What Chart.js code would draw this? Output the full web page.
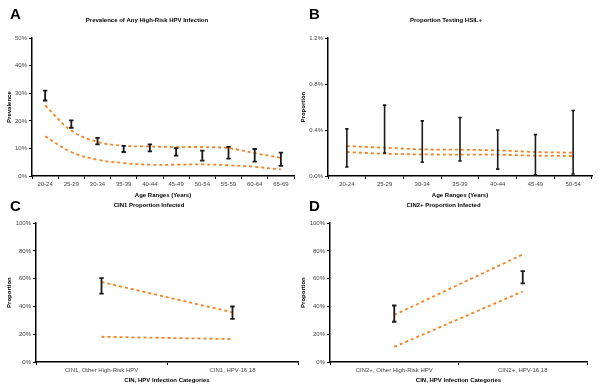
<!DOCTYPE html>
<html>
<head>
<meta charset="utf-8">
<script src="https://cdn.jsdelivr.net/npm/chart.js@4/dist/chart.umd.min.js"></script>
<style>
  body { margin: 0; background: #fff; }
  #wrap { position: relative; width: 600px; height: 390px; overflow: hidden; font-family: "Liberation Sans", Arial, sans-serif; }
  canvas { position: absolute; }
  .tag { position: absolute; font-size: 15px; font-weight: bold; line-height: 15px; color: #000; }
</style>
</head>
<body>
<div id="wrap">
  <canvas id="chartA" width="300" height="200" style="left:0;top:0"></canvas>
  <canvas id="chartB" width="300" height="200" style="left:300px;top:0"></canvas>
  <canvas id="chartC" width="300" height="195" style="left:0;top:195px"></canvas>
  <canvas id="chartD" width="300" height="195" style="left:300px;top:195px"></canvas>
  <div class="tag" style="left:10px;top:6px">A</div>
  <div class="tag" style="left:309px;top:6px">B</div>
  <div class="tag" style="left:10px;top:198px">C</div>
  <div class="tag" style="left:309px;top:198px">D</div>
</div>
<script>
// Panel A: prevalence of any high-risk HPV (%)
const agesA = ['20-24', '25-29', '30-34', '35-39', '40-44', '45-49', '50-54', '55-59', '60-64', '65-69'];
const upperA = [25.6, 16.5, 12.4, 11.0, 10.7, 10.5, 10.5, 10.1, 8.3, 6.6];
const lowerA = [14.4, 8.7, 5.9, 4.7, 4.1, 4.1, 4.2, 3.9, 3.3, 2.4];
const errLowA = [27.4, 17.5, 11.5, 8.7, 8.9, 7.4, 5.6, 6.3, 5.2, 3.7];
const errHighA = [31.0, 20.2, 13.8, 10.9, 11.5, 10.1, 9.2, 10.6, 9.8, 8.5];

// Panel B: proportion testing HSIL+ (%)
const agesB = ['20-24', '25-29', '30-34', '35-39', '40-44', '45-49', '50-54'];
const upperB = [0.261, 0.246, 0.232, 0.229, 0.223, 0.209, 0.203];
const lowerB = [0.209, 0.194, 0.188, 0.186, 0.186, 0.177, 0.174];
const errLowB = [0.078, 0.20, 0.12, 0.13, 0.06, 0.01, 0.017];
const errHighB = [0.41, 0.617, 0.48, 0.51, 0.40, 0.36, 0.57];

// Panel C: CIN1 proportion infected (%)
const catsC = ['CIN1, Other High-Risk HPV', 'CIN1, HPV-16,18'];
const upperC = [57.6, 35.8];
const lowerC = [18.2, 16.5];
const errLowC = [49.2, 31.0];
const errHighC = [60.5, 40.0];

// Panel D: CIN2+ proportion infected (%)
const catsD = ['CIN2+, Other High-Risk HPV', 'CIN2+, HPV-16,18'];
const upperD = [33.9, 77.5];
const lowerD = [10.9, 50.8];
const errLowD = [29.0, 56.7];
const errHighD = [40.7, 65.4];

const FONT = '"Liberation Sans", Arial, sans-serif';
const ORANGE = '#f7801f';

// draws the black error bars with caps, through the chart's own scales
const errorBars = {
    id: 'errorBars',
    afterDatasetsDraw(chart, args, opts) {
        const { ctx, scales: { x, y } } = chart;
        ctx.save();
        ctx.strokeStyle = '#1a1a1a';
        ctx.lineWidth = opts.width;
        opts.low.forEach((lo, i) => {
            const px = x.getPixelForValue(i);
            const yLo = y.getPixelForValue(lo);
            const yHi = y.getPixelForValue(opts.high[i]);
            ctx.beginPath();
            ctx.moveTo(px, yLo); ctx.lineTo(px, yHi);
            ctx.moveTo(px - opts.cap, yLo); ctx.lineTo(px + opts.cap, yLo);
            ctx.moveTo(px - opts.cap, yHi); ctx.lineTo(px + opts.cap, yHi);
            ctx.stroke();
        });
        ctx.restore();
    }
};

function dotted(data, tension) {
    return {
        data: data,
        borderColor: ORANGE,
        borderWidth: 1.8,
        borderDash: [3, 3],
        pointRadius: 0,
        tension: tension,
        fill: false
    };
}

function makePanel(id, cfg) {
    new Chart(document.getElementById(id), {
        type: 'line',
        data: {
            labels: cfg.cats,
            datasets: [dotted(cfg.upper, cfg.tension), dotted(cfg.lower, cfg.tension)]
        },
        options: {
            responsive: false,
            animation: false,
            devicePixelRatio: 1,
            layout: { padding: { left: 0, right: cfg.padRight, top: 0, bottom: 0 } },
            plugins: {
                legend: { display: false },
                tooltip: { enabled: false },
                title: {
                    display: true,
                    text: cfg.title,
                    color: '#000',
                    font: { family: FONT, size: 6, weight: 'bold' },
                    padding: { top: cfg.titleTop, bottom: cfg.titleBottom }
                },
                errorBars: { low: cfg.errLow, high: cfg.errHigh, cap: cfg.cap, width: cfg.barWidth }
            },
            scales: {
                x: {
                    offset: true,
                    afterFit: (s) => { s.height = cfg.xHeight; },
                    border: { color: '#000', width: 1.5 },
                    grid: { drawOnChartArea: false, drawTicks: true, tickLength: 3, color: '#000', offset: true },
                    ticks: { color: '#444', font: { family: FONT, size: 6 }, padding: 2, autoSkip: false, maxRotation: 0 },
                    title: {
                        display: true,
                        text: cfg.xTitle,
                        color: '#000',
                        font: { family: FONT, size: 6, weight: 'bold' },
                        padding: { top: 0, bottom: cfg.xTitlePad }
                    }
                },
                y: {
                    min: 0,
                    max: cfg.yMax,
                    afterFit: (s) => { s.width = cfg.yWidth; },
                    border: { color: '#000', width: 1.5 },
                    grid: { drawOnChartArea: false, drawTicks: true, tickLength: 3, color: '#000' },
                    ticks: {
                        stepSize: cfg.yStep,
                        color: '#444',
                        font: { family: FONT, size: 6 },
                        padding: 2,
                        callback: cfg.yFmt
                    },
                    title: {
                        display: true,
                        text: cfg.yTitle,
                        color: '#000',
                        font: { family: FONT, size: 6, weight: 'bold' },
                        padding: { top: cfg.yTitlePad, bottom: 0 }
                    }
                }
            }
        },
        plugins: [errorBars]
    });
}

makePanel('chartA', {
    cats: agesA, upper: upperA, lower: lowerA, errLow: errLowA, errHigh: errHighA,
    title: 'Prevalence of Any High-Risk HPV Infection', xTitle: 'Age Ranges (Years)', yTitle: 'Prevalence',
    yMax: 50, yStep: 10, yFmt: (v) => v + '%', tension: 0.4,
    padRight: 6, yWidth: 32, xHeight: 24, xTitlePad: 1, yTitlePad: 6,
    titleTop: 17, titleBottom: 14, cap: 2.2, barWidth: 1.8
});

makePanel('chartB', {
    cats: agesB, upper: upperB, lower: lowerB, errLow: errLowB, errHigh: errHighB,
    title: 'Proportion Testing HSIL+', xTitle: 'Age Ranges (Years)', yTitle: 'Proportion',
    yMax: 1.2, yStep: 0.4, yFmt: (v) => v.toFixed(1) + '%', tension: 0.3,
    padRight: 8, yWidth: 28, xHeight: 24, xTitlePad: 1, yTitlePad: 0,
    titleTop: 17, titleBottom: 14, cap: 1.7, barWidth: 1.6
});

makePanel('chartC', {
    cats: catsC, upper: upperC, lower: lowerC, errLow: errLowC, errHigh: errHighC,
    title: 'CIN1 Proportion Infected', xTitle: 'CIN, HPV Infection Categories', yTitle: 'Proportion',
    yMax: 100, yStep: 20, yFmt: (v) => v + '%', tension: 0,
    padRight: 2, yWidth: 36, xHeight: 28, xTitlePad: 6, yTitlePad: 6,
    titleTop: 7, titleBottom: 14, cap: 2.2, barWidth: 1.8
});

makePanel('chartD', {
    cats: catsD, upper: upperD, lower: lowerD, errLow: errLowD, errHigh: errHighD,
    title: 'CIN2+ Proportion Infected', xTitle: 'CIN, HPV Infection Categories', yTitle: 'Proportion',
    yMax: 100, yStep: 20, yFmt: (v) => v + '%', tension: 0,
    padRight: 13, yWidth: 30, xHeight: 28, xTitlePad: 6, yTitlePad: 0,
    titleTop: 7, titleBottom: 14, cap: 2.2, barWidth: 1.8
});
</script>
</body>
</html>
